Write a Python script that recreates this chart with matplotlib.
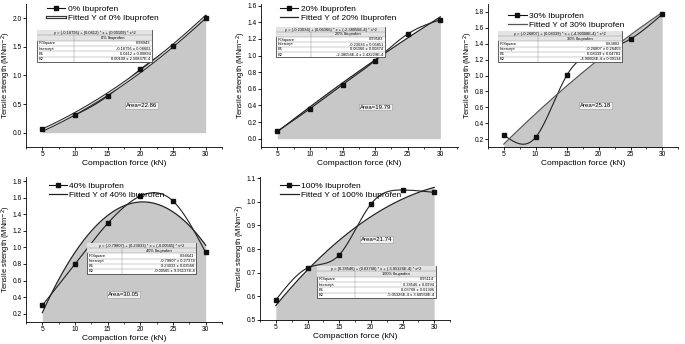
import numpy as np
import matplotlib
matplotlib.use("Agg")
import matplotlib.pyplot as plt
from matplotlib.patches import Rectangle
import matplotlib.patheffects as pe

plt.rcParams['font.family'] = ['Liberation Sans', 'DejaVu Sans']

force = [5, 10, 15, 20, 25, 30]

labels = ["0% Ibuprofen", "20% Ibuprofen", "30% Ibuprofen", "40% Ibuprofen", "100% Ibuprofen"]
ts_0 = [0.06, 0.31, 0.64, 1.11, 1.52, 2.00]
ts_20 = [0.09, 0.36, 0.65, 0.94, 1.26, 1.43]
ts_30 = [0.25, 0.22, 1.01, 1.30, 1.46, 1.77]
ts_40 = [0.30, 0.80, 1.29, 1.62, 1.56, 0.94]
ts_100 = [0.585, 0.72, 0.775, 0.99, 1.05, 1.04]
series = [ts_0, ts_20, ts_30, ts_40, ts_100]

# fitted quadratic coefficients (intercept, B1, B2)
coef_0 = [-0.18795, 0.0412, 0.00109]
coef_20 = [-0.23036, 0.06366, -2.38056e-4]
coef_30 = [-0.26807, 0.08339, -4.90008e-4]
coef_40 = [-0.79807, 0.23033, -0.00565]
coef_100 = [0.38546, 0.03768, -5.05326e-4]
coefs = [coef_0, coef_20, coef_30, coef_40, coef_100]

areas = ["Area=22.86", "Area=19.79", "Area=25.18", "Area=30.05", "Area=21.74"]

eq_texts = [
    "y = (-0.18795) + (0.0412) * x + (0.00109) * x^2",
    "y = (-0.23036) + (0.06366) * x + (-2.38056E-4) * x^2",
    "y = (-0.26807) + (0.08339) * x + (-4.90008E-4) * x^2",
    "y = (-0.79807) + (0.23033) * x + (-0.00565) * x^2",
    "y = (0.38546) + (0.03768) * x + (-5.05326E-4) * x^2",
]
stat_names = ["R-Square", "Intercept", "B1", "B2"]
stat_0 = ["0.98943", "-0.18795 \u00b1 0.08603", "0.0412 \u00b1 0.00894", "0.00109 \u00b1 2.50837E-4"]
stat_20 = ["0.99583", "-0.23036 \u00b1 0.05851", "0.06366 \u00b1 0.00874", "-2.38056E-4 \u00b1 2.43229E-4"]
stat_30 = ["0.83803", "-0.26807 \u00b1 0.26403", "0.08339 \u00b1 0.04781", "-4.90008E-4 \u00b1 0.00134"]
stat_40 = ["0.94641", "-0.79807 \u00b1 0.27378", "0.23033 \u00b1 0.03566", "-0.00565 \u00b1 9.96137E-4"]
stat_100 = ["0.95114", "0.38546 \u00b1 0.0994", "0.03768 \u00b1 0.01306", "-5.05326E-4 \u00b1 3.68568E-4"]
stats = [stat_0, stat_20, stat_30, stat_40, stat_100]

W, H = 685, 344
# axes rectangles in pixels: left, right, top, bottom
rects = [(26, 222, 4, 147), (261, 458, 4, 147), (488, 678, 4, 147),
         (26, 222, 177, 322), (260, 450, 177, 320)]
xlims = [(2.5, 32.4), (2.7, 32.7), (3.0, 32.0), (2.75, 32.4), (2.6, 31.5)]
ylims = [(-0.25, 2.25), (-0.1, 1.62), (0.1, 1.9), (0.1, 1.85), (0.5, 1.105)]
yticks = [np.arange(0, 2.01, 0.5), np.arange(0, 1.61, 0.2), np.arange(0.2, 1.81, 0.2),
          np.arange(0.2, 1.81, 0.2), np.arange(0.5, 1.11, 0.1)]
# table rectangles in pixels: left, right, top, bottom
tables = [(37, 152, 30, 62), (276, 385, 27, 57), (498, 622, 31, 62),
          (87, 196, 243, 274), (317, 436, 266, 298)]
area_pos = [(20.2, 0.47), (20.1, 0.38), (19.5, 0.62), (17.4, 0.435), (20.9, 0.84)]
leg_anchor = [(0.08, 1.03), (0.07, 1.03), (0.08, 0.98), (0.09, 1.0), (0.08, 1.0)]


def natural_spline(x, y, xs):
    x = np.asarray(x, float); y = np.asarray(y, float)
    n = len(x); h = np.diff(x)
    A = np.zeros((n, n)); r = np.zeros(n)
    A[0, 0] = 1; A[-1, -1] = 1
    for i in range(1, n - 1):
        A[i, i - 1] = h[i - 1]; A[i, i] = 2 * (h[i - 1] + h[i]); A[i, i + 1] = h[i]
        r[i] = 6 * ((y[i + 1] - y[i]) / h[i] - (y[i] - y[i - 1]) / h[i - 1])
    M = np.linalg.solve(A, r)
    idx = np.clip(np.searchsorted(x, xs) - 1, 0, n - 2)
    x0 = x[idx]; x1 = x[idx + 1]; hh = h[idx]
    a = (x1 - xs) / hh; b = (xs - x0) / hh
    return (a * y[idx] + b * y[idx + 1] +
            ((a ** 3 - a) * M[idx] + (b ** 3 - b) * M[idx + 1]) * hh ** 2 / 6)


fig = plt.figure(figsize=(W / 100, H / 100), dpi=100)
xs = np.linspace(5, 30, 300)
for k in range(5):
    l, r, t, b = rects[k]
    ax = fig.add_axes([l / W, (H - b) / H, (r - l) / W, (b - t) / H])
    c = coefs[k]
    fit = c[0] + c[1] * xs + c[2] * xs ** 2
    ax.fill_between(xs, 0, fit, color='#c8c8c8', lw=0, zorder=1)
    ax.plot(xs, natural_spline(force, series[k], xs), color='#222222', lw=0.8, zorder=3)
    ax.plot(force, series[k], 's', color='#111111', ms=3.2, zorder=4)
    h1, = ax.plot([], [], '-s', color='#111111', lw=0.8, ms=3.2, label=labels[k])
    if k == 0:
        h2, = ax.plot(xs, fit, color='#d8d8d8', lw=0.9, zorder=3,
                      path_effects=[pe.withStroke(linewidth=2.3, foreground='#222222')],
                      label="Fitted Y of " + labels[k])
    else:
        col = '#555555' if k == 2 else '#222222'
        h2, = ax.plot(xs, fit, color=col, lw=0.9, zorder=3, label="Fitted Y of " + labels[k])
    ax.legend(handles=[h1, h2], loc='upper left', bbox_to_anchor=leg_anchor[k],
              frameon=False, fontsize=6, handlelength=2.2, handletextpad=0.3,
              labelspacing=0.15, borderaxespad=0.2)
    ax.set_xlim(*xlims[k]); ax.set_ylim(*ylims[k])
    ax.set_xticks(force)
    ax.set_xticks(np.arange(2.5, 32.6, 2.5), minor=True)
    ax.set_yticks(yticks[k])
    ax.yaxis.set_major_formatter(matplotlib.ticker.FormatStrFormatter("%.1f"))
    for s in ['top', 'right']:
        ax.spines[s].set_visible(False)
    for s in ['left', 'bottom']:
        ax.spines[s].set_linewidth(0.6)
    ax.tick_params(which='major', direction='out', length=2, width=0.6, labelsize=4.8, pad=1)
    ax.tick_params(which='minor', direction='out', length=1.2, width=0.5)
    ax.tick_params(axis='y', which='minor', left=False)
    ax.set_xlabel("Compaction force (kN)", fontsize=6, labelpad=1)
    ax.set_ylabel("Tensile strength (MNm$^{-2}$)", fontsize=5.4)
    ax.yaxis.set_label_coords(-20.0 / (r - l), 0.5)
    ax.yaxis.label.set_va('center')
    ax.text(area_pos[k][0], area_pos[k][1], areas[k], fontsize=4.3, ha='center', va='center',
            zorder=5, bbox=dict(boxstyle='square,pad=0.15', fc='#eeeeee', ec='#999999', lw=0.4))

    # fit table
    tl, tr, tt, tb = tables[k]
    fx0 = (tl - l) / (r - l); fx1 = (tr - l) / (r - l)
    fy1 = (b - tt) / (b - t); fy0 = (b - tb) / (b - t)
    tw = fx1 - fx0; th = fy1 - fy0
    nrow = 6; rh = th / nrow
    colsplit = fx0 + tw * 0.32
    ax.add_patch(Rectangle((fx0, fy0), tw, th, transform=ax.transAxes, fc='white',
                           ec='#444444', lw=0.6, zorder=6))
    ax.add_patch(Rectangle((fx0, fy1 - 2 * rh), tw, 2 * rh, transform=ax.transAxes,
                           fc='#e4e4e4', ec='none', zorder=6))
    for i in range(1, nrow):
        yy = fy1 - i * rh
        ax.plot([fx0, fx1], [yy, yy], transform=ax.transAxes, color='#888888', lw=0.3, zorder=7)
    ax.plot([colsplit, colsplit], [fy0, fy1 - rh], transform=ax.transAxes,
            color='#888888', lw=0.3, zorder=7)
    ax.text(fx0 + tw / 2, fy1 - rh / 2, eq_texts[k], transform=ax.transAxes, fontsize=2.9,
            ha='center', va='center', zorder=8)
    ax.text(colsplit + (fx1 - colsplit) / 2, fy1 - 1.5 * rh, labels[k], transform=ax.transAxes,
            fontsize=2.9, ha='center', va='center', zorder=8)
    for i in range(4):
        yy = fy1 - (2.5 + i) * rh
        ax.text(fx0 + 0.008, yy, stat_names[i], transform=ax.transAxes, fontsize=2.9,
                ha='left', va='center', zorder=8)
        ax.text(fx1 - 0.008, yy, stats[k][i], transform=ax.transAxes, fontsize=2.9,
                ha='right', va='center', zorder=8)

fig.savefig("out.png", dpi=100)
